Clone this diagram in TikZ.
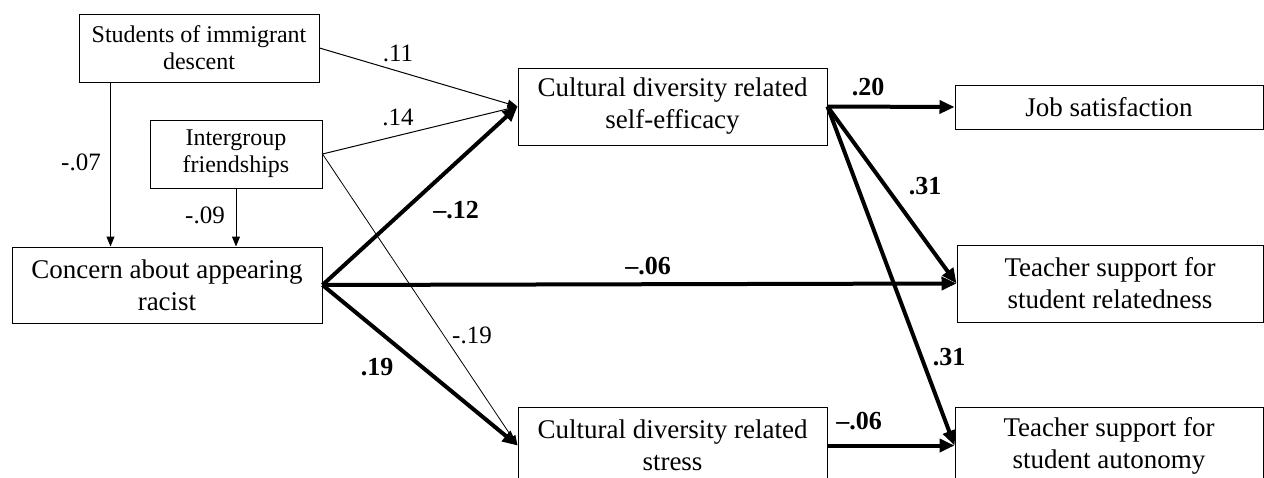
\documentclass[tikz,border=0pt]{standalone}
\usepackage{fontspec}
\setmainfont{Liberation Serif}
\usetikzlibrary{arrows.meta}

\begin{document}
\begin{tikzpicture}[x=0.5pt, y=-0.5pt,
        box/.style={draw, line width=0.5pt, inner sep=0pt, align=center},
        bigbox/.style={box, font=\fontsize{13.5}{16}\selectfont},
        smallbox/.style={box, font=\fontsize{12}{13.5}\selectfont},
        weak/.style={line width=0.5pt, -{Triangle[length=5pt, width=4pt]}},
        strong/.style={line width=2pt, -{Triangle[length=7.5pt, width=6.5pt]}},
        coef/.style={font=\fontsize{12.5}{13}\selectfont},
        bcoef/.style={font=\bfseries\fontsize{13}{14}\selectfont}]
        \useasboundingbox (0,0) rectangle (1264,477);
        \begin{scope}
            \node[smallbox, minimum width=120pt, minimum height=34pt] (stud) at (199,48) {Students of immigrant\\descent};
            \node[smallbox, minimum width=86pt, minimum height=34pt] (friend) at (236,154) {Intergroup\\friendships};
            \node[bigbox, minimum width=155pt, minimum height=38pt] (concern) at (167,285) {Concern about appearing\\racist};
            \node[bigbox, minimum width=154.5pt, minimum height=38.5pt] (eff) at (672.5,106.5) {Cultural diversity related\\self-efficacy};
            \node[bigbox, minimum width=154.5pt, minimum height=38.5pt] (stress) at (672.5,445.5) {Cultural diversity related\\stress};
            \node[bigbox, minimum width=154pt, minimum height=22pt] (job) at (1109,107) {Job satisfaction};
            \node[bigbox, minimum width=153pt, minimum height=38.5pt] (rel) at (1110,283.5) {Teacher support for\\student relatedness};
            \node[bigbox, minimum width=154pt, minimum height=38.5pt] (aut) at (1109,445.5) {Teacher support for\\student autonomy};
        \end{scope}
        \begin{scope}
            \draw[weak] ([xshift=16pt]stud.south west) -- ([xshift=16pt]stud.south west |- concern.north);
            \draw[weak] (friend.south) -- (friend.south |- concern.north);
            \draw[weak] (stud.east) -- (eff.west);
            \draw[weak] (friend.east) -- (eff.west);
            \draw[weak, line width=0.4pt] (friend.east) -- (stress.west);
            \draw[strong] (concern.east) -- (eff.west);
            \draw[strong] (concern.east) -- (rel.west);
            \draw[strong] (concern.east) -- (stress.west);
            \draw[strong] (eff.east) -- (job.west);
            \draw[strong] (eff.east) -- (rel.west);
            \draw[strong] (eff.east) -- (aut.west);
            \draw[strong] (stress.east) -- (aut.west);
        \end{scope}
        \begin{scope}
            \node[coef] (c11) at (398,53) {.11};
            \node[coef] (c14) at (398,117) {.14};
            \node[coef] (c07) at (81,162) {-.07};
            \node[coef] (c09) at (205,215) {-.09};
            \node[coef] (c19a) at (472,335) {-.19};
            \node[bcoef] (c12) at (456,210) {--.12};
            \node[bcoef] (c06a) at (648,266) {--.06};
            \node[bcoef] (c19b) at (377,367) {.19};
            \node[bcoef] (c20) at (868,87) {.20};
            \node[bcoef] (c31a) at (925,186) {.31};
            \node[bcoef] (c31b) at (949,357) {.31};
            \node[bcoef] (c06b) at (859,421) {--.06};
        \end{scope}
    \end{tikzpicture}
\end{document}
